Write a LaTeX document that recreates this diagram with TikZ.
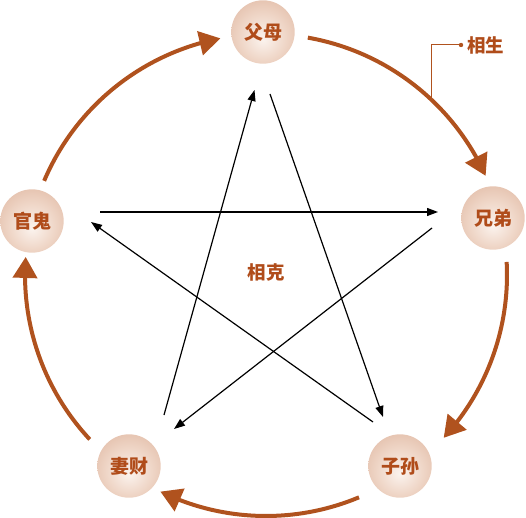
\documentclass[tikz,border=0pt]{standalone}
\usepackage{fontspec}
\newfontfamily\cjk{Noto Sans CJK SC}
\usetikzlibrary{arrows.meta,calc,bending}
\definecolor{arcbrown}{HTML}{B0521E}
\definecolor{txtbrown}{HTML}{B04C1A}
\definecolor{ballin}{HTML}{FBF3EE}
\definecolor{ballmid}{HTML}{EFD6C7}
\definecolor{ballout}{HTML}{D4A186}
\pgfdeclareradialshading{ballshade}{\pgfpoint{0bp}{-6bp}}{color(0bp)=(ballin); color(18bp)=(ballmid); color(50bp)=(ballout); color(60bp)=(ballout)}
\begin{document}
\begin{tikzpicture}[x=1pt,y=1pt,
  ball/.style={circle, minimum size=63.4pt, inner sep=0pt, shading=ballshade,
    font=\cjk\bfseries\fontsize{19}{19}\selectfont, text=txtbrown},
  cyc/.style={draw=arcbrown, line width=4pt, -{Triangle[length=21pt,width=24pt]}},
  ke/.style={draw=black, line width=1.2pt, -{Triangle[length=11pt,width=8pt]}},
  lbl/.style={font=\cjk\bfseries\fontsize{18.5}{18.5}\selectfont, text=txtbrown, inner sep=0pt},
  leader/.style={draw=arcbrown, line width=1pt}]
\useasboundingbox (0,0) rectangle (526,517);
\coordinate (O) at (266,242);
% nodes
\node[ball] (fumu) at (263,485) {父母};
\node[ball] (xiongdi) at (493,299) {兄弟};
\node[ball] (zisun) at (400,51) {子孙};
\node[ball] (qicai) at (129,51) {妻财};
\node[ball] (guangui) at (32,296) {官鬼};
% cycle arcs (xiang sheng)
\coordinate (a1) at ($(O)+(80:241)$);
\coordinate (a2) at ($(O)+(3.1:241)$);
\coordinate (a3) at ($(O)+(-67.3:241)$);
\coordinate (a4) at ($(O)+(-137:241)$);
\coordinate (a5) at ($(O)+(157:241)$);
\draw[cyc] (a1) arc[start angle=80, end angle=24.3, radius=241pt];
\draw[cyc] (a2) arc[start angle=3.1, end angle=-42.5, radius=241pt];
\draw[cyc] (a3) arc[start angle=-67.3, end angle=-116, radius=241pt];
\draw[cyc] (a4) arc[start angle=-137, end angle=-184.3, radius=241pt];
\draw[cyc] (a5) arc[start angle=157, end angle=100.9, radius=241pt];
% label xiang sheng
\coordinate (lp) at ($(O)+(46.5:241)$);
\coordinate (dot) at (461,472);
\draw[leader] (lp) |- (dot);
\fill[arcbrown] (dot) circle (2.2pt);
\node[lbl, anchor=west] (sheng) at (467,472) {相生};
% star (xiang ke)
\coordinate (s1a) at (164,102); \coordinate (s1b) at (254.5,427);
\coordinate (s2a) at (270,423); \coordinate (s2b) at (383,100);
\coordinate (s3a) at (100,305); \coordinate (s3b) at (438,305);
\coordinate (s4a) at (432,289); \coordinate (s4b) at (174,88);
\coordinate (s5a) at (373,95);  \coordinate (s5b) at (91,295);
\draw[ke] (s1a) -- (s1b);
\draw[ke] (s2a) -- (s2b);
\draw[ke] (s3a) -- (s3b);
\draw[ke] (s4a) -- (s4b);
\draw[ke] (s5a) -- (s5b);
\node[lbl] (ke) at (266,245) {相克};
\end{tikzpicture}
\end{document}
